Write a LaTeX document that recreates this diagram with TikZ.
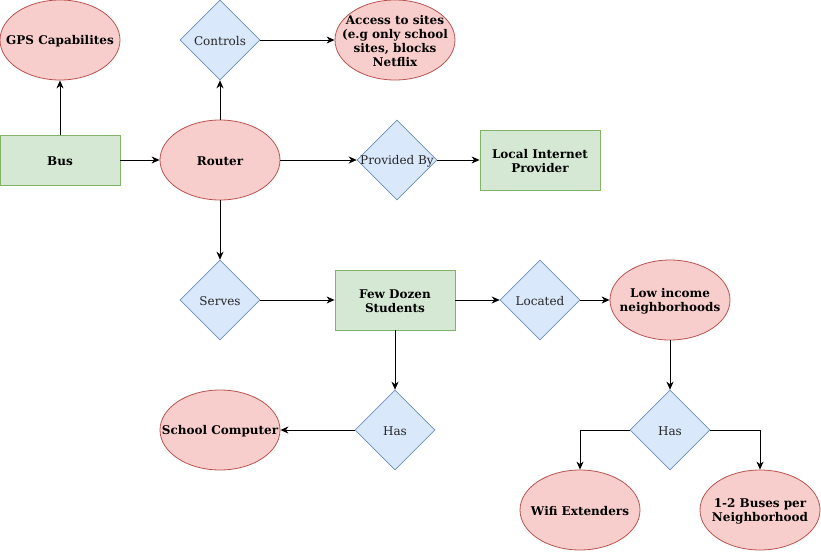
\documentclass[tikz,border=0pt]{standalone}
\usepackage{fontspec}
\setmainfont{DejaVu Serif}
\usetikzlibrary{shapes.geometric,arrows.meta}
\definecolor{redfill}{HTML}{F8CECC}
\definecolor{redline}{HTML}{B85450}
\definecolor{greenfill}{HTML}{D5E8D4}
\definecolor{greenline}{HTML}{82B366}
\definecolor{bluefill}{HTML}{DAE8FC}
\definecolor{blueline}{HTML}{6C8EBF}
\tikzset{
  every label/.style={font=\fontsize{12}{14}\selectfont, align=center, inner sep=0pt,
    text=black, yshift=-1pt},
  entity/.style={ellipse, draw=redline, fill=redfill, line width=0.8pt,
    minimum width=120pt, minimum height=80pt, inner sep=0pt},
  thing/.style={rectangle, draw=greenline, fill=greenfill, line width=0.8pt,
    minimum width=120pt, inner sep=0pt},
  relation/.style={diamond, draw=blueline, fill=bluefill, line width=0.6pt,
    minimum width=80pt, minimum height=80pt, inner sep=0pt},
  bold/.style={label={[font=\fontsize{12}{14}\selectfont\bfseries]center:#1}},
  plain/.style={label={[text=black!85]center:#1}},
  link/.style={-{Stealth[length=8pt,width=7pt,inset=2.5pt]}, line width=0.9pt, black}
}
\begin{document}
\begin{tikzpicture}[x=1pt,y=-1pt]
\useasboundingbox (0,0) rectangle (821,551);

% top row
\node[entity, bold={GPS Capabilites}] (gps) at (60,40) {};
\node[relation, plain={Controls}] (ctrl) at (220,40) {};
\node[entity, bold={Access to sites\\(e.g only school\\sites, blocks\\Netflix}] (access) at (395,40) {};

% second row
\node[thing, minimum height=50pt, bold={Bus}] (bus) at (60,160) {};
\node[entity, bold={Router}] (router) at (220,160) {};
\node[relation, plain={Provided By}] (prov) at (397,160) {};
\node[thing, minimum height=60pt, bold={Local Internet\\Provider}] (isp) at (540,160) {};

% third row
\node[relation, plain={Serves}] (serves) at (220,300) {};
\node[thing, minimum height=60pt, bold={Few Dozen\\Students}] (students) at (395,300) {};
\node[relation, plain={Located}] (located) at (540,300) {};
\node[entity, bold={Low income\\neighborhoods}] (lowinc) at (670,300) {};

% fourth row
\node[entity, bold={School Computer}] (computer) at (220,430) {};
\node[relation, plain={Has}] (hasA) at (395,430) {};
\node[relation, plain={Has}] (hasB) at (670,430) {};

% bottom row
\node[entity, bold={Wifi Extenders}] (wifi) at (580,510) {};
\node[entity, bold={1-2 Buses per\\Neighborhood}] (buses) at (760,510) {};

% connectors
\draw[link] (bus.north) -- (gps.south);
\draw[link] (bus.east) -- (router.west);
\draw[link] (router.north) -- (ctrl.south);
\draw[link] (ctrl.east) -- (access.west);
\draw[link] (router.east) -- (prov.west);
\draw[link] (prov.east) -- (isp.west);
\draw[link] (router.south) -- (serves.north);
\draw[link] (serves.east) -- (students.west);
\draw[link] (students.east) -- (located.west);
\draw[link] (located.east) -- (lowinc.west);
\draw[link] (students.south) -- (hasA.north);
\draw[link] (hasA.west) -- (computer.east);
\draw[link] (lowinc.south) -- (hasB.north);
\draw[link] (hasB.west) -| (wifi.north);
\draw[link] (hasB.east) -| (buses.north);
\end{tikzpicture}
\end{document}
